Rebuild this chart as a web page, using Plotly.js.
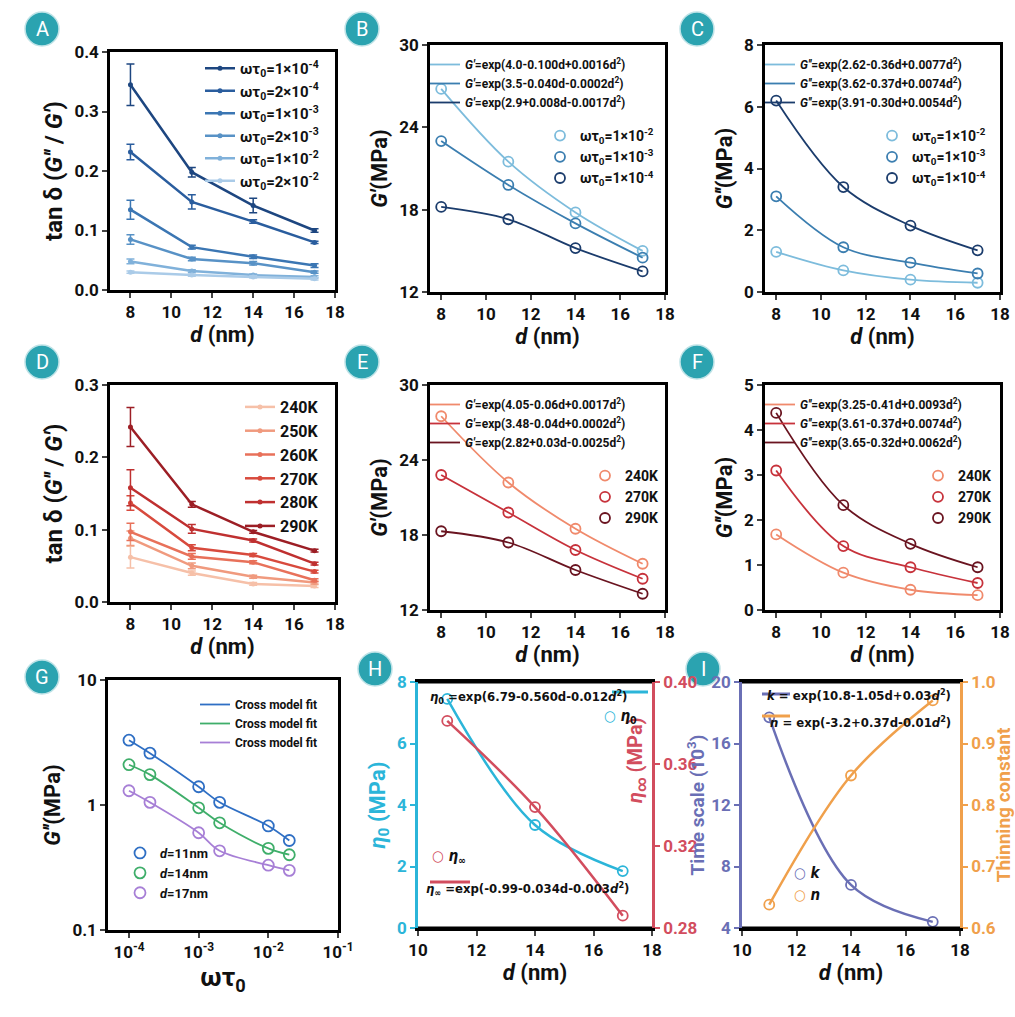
<!DOCTYPE html>
<html><head><meta charset="utf-8">
<script src="https://cdn.plot.ly/plotly-3.0.1.min.js"></script>
<style>body{margin:0;background:#fff}</style></head>
<body><div id="plot" style="width:1015px;height:1017px"></div>
<script>
var d = [8, 11, 14, 17];
var d3 = [11, 14, 17];
var wt = [1e-4, 2e-4, 1e-3, 2e-3, 1e-2, 2e-2];

// A: tan delta vs d for frequencies
var aNames = ['1×10<sup>-4</sup>','2×10<sup>-4</sup>','1×10<sup>-3</sup>','2×10<sup>-3</sup>','1×10<sup>-2</sup>','2×10<sup>-2</sup>'];
var aVals = [[0.345,0.198,0.142,0.100],[0.232,0.148,0.115,0.080],[0.135,0.072,0.056,0.041],
             [0.085,0.052,0.045,0.030],[0.048,0.032,0.025,0.022],[0.030,0.025,0.022,0.019]];
var aErr = [[0.035,0.008,0.012,0.003],[0.013,0.012,0.003,0.002],[0.016,0.003,0.003,0.003],
            [0.008,0.003,0.003,0.002],[0.004,0.002,0.002,0.002],[0.002,0.002,0.002,0.002]];
var aCol = ['#1d4680','#2a5d9e','#3b76b3','#5892c6','#80b1da','#aacbe8'];

// B, C
var bcNames = ['1×10<sup>-2</sup>','1×10<sup>-3</sup>','1×10<sup>-4</sup>'];
var bCol = ['#7dbcdc','#3b7eb0','#1b3c6c'];
var bVals = [[26.8,21.5,17.8,15.0],[23.0,19.8,17.0,14.5],[18.2,17.3,15.2,13.5]];
var bFit = ['exp(4.0-0.100d+0.0016d<sup>2</sup>)','exp(3.5-0.040d-0.0002d<sup>2</sup>)','exp(2.9+0.008d-0.0017d<sup>2</sup>)'];
var cVals = [[1.3,0.7,0.4,0.3],[3.1,1.45,0.95,0.6],[6.2,3.4,2.15,1.35]];
var cFit = ['exp(2.62-0.36d+0.0077d<sup>2</sup>)','exp(3.62-0.37d+0.0074d<sup>2</sup>)','exp(3.91-0.30d+0.0054d<sup>2</sup>)'];

// D
var dNames = ['240K','250K','260K','270K','280K','290K'];
var dVals = [[0.062,0.040,0.025,0.022],[0.088,0.050,0.035,0.027],[0.097,0.063,0.055,0.030],
             [0.137,0.075,0.065,0.042],[0.158,0.101,0.085,0.053],[0.242,0.135,0.097,0.071]];
var dErr = [[0.015,0.003,0.002,0.002],[0.01,0.004,0.002,0.002],[0.012,0.004,0.002,0.002],
            [0.01,0.004,0.002,0.002],[0.025,0.006,0.002,0.002],[0.027,0.004,0.002,0.002]];
var dCol = ['#f6c0a8','#f09a7e','#e8715a','#d84a3d','#bf3030','#9c1e25'];

// E, F
var efNames = ['240K','270K','290K'];
var eCol = ['#f08a6c','#c7323b','#6a1420'];
var eVals = [[27.5,22.2,18.5,15.7],[22.8,19.8,16.8,14.5],[18.3,17.4,15.2,13.3]];
var eFit = ['exp(4.05-0.06d+0.0017d<sup>2</sup>)','exp(3.48-0.04d+0.0002d<sup>2</sup>)','exp(2.82+0.03d-0.0025d<sup>2</sup>)'];
var fVals = [[1.68,0.83,0.45,0.33],[3.1,1.42,0.95,0.6],[4.38,2.33,1.47,0.95]];
var fFit = ['exp(3.25-0.41d+0.0093d<sup>2</sup>)','exp(3.61-0.37d+0.0074d<sup>2</sup>)','exp(3.65-0.32d+0.0062d<sup>2</sup>)'];

// G
var gNames = ['11nm','14nm','17nm'];
var gCol = ['#2f6fc4','#3fae6a','#a77fd6'];
var gVals = [[3.3,2.6,1.4,1.05,0.68,0.52],[2.1,1.75,0.95,0.72,0.45,0.40],[1.3,1.05,0.6,0.43,0.33,0.30]];

// H, I
var eta0 = [7.45, 3.35, 1.85];
var etaInf = [0.381, 0.339, 0.286];
var kVals = [17.7, 6.8, 4.4];
var nVals = [0.638, 0.848, 0.970];

var W = 1015, H = 1017;
function dx(a, b) { return [a / W, b / W]; }
function dy(t, b) { return [1 - b / H, 1 - t / H]; }
var F = 'Roboto, Arial, sans-serif';

var traces = [];
var layout = {width: W, height: H, margin: {l: 0, r: 0, t: 0, b: 0},
  paper_bgcolor: '#fff', plot_bgcolor: 'rgba(0,0,0,0)', font: {family: F, color: '#111'},
  annotations: [], shapes: []};

function ax(dom, range, dtick, title, opts) {
  var o = {domain: dom, range: range, dtick: dtick, showgrid: false, zeroline: false,
    showline: true, linecolor: '#000', linewidth: 2.5, mirror: true, ticks: 'outside',
    ticklen: 5, tickwidth: 2, tickfont: {size: 17, family: F, weight: 'bold'},
    title: {text: title, font: {size: 22, family: F, weight: 'bold'}, standoff: 6}};
  for (var k in opts) o[k] = opts[k];
  return o;
}
var dTitle = '<i>d</i> (nm)';

function legend(name, x, y, size) {
  layout[name] = {x: x / W, y: 1 - y / H, xanchor: 'left', yanchor: 'top', bgcolor: 'rgba(0,0,0,0)',
    font: {size: size || 13, family: F, weight: 'bold'}, tracegroupgap: 0, itemwidth: 30};
}
function note(t, x, y, c, size, extra) {
  var a = {text: t, x: x / W, y: 1 - y / H, xref: 'paper', yref: 'paper', xanchor: 'left', showarrow: false,
    font: {size: size || 13, family: 'DejaVu Sans Condensed, Roboto', weight: 'bold', color: c || '#111'}};
  for (var k in extra) a[k] = extra[k];
  layout.annotations.push(a);
}

// ---------- A ----------
layout.xaxis = ax(dx(110,335), [7,18], 2, dTitle, {anchor: 'y'});
layout.yaxis = ax(dy(52,290), [0,0.4], 0.1, 'tan δ (<i>G\'\'</i> / <i>G\'</i>)', {anchor: 'x', tickformat: '.1f'});
layout.yaxis.title.font.size = 24;
aVals.forEach(function (v, i) {
  traces.push({x: d, y: v, xaxis: 'x', yaxis: 'y', mode: 'lines+markers', name: 'ωτ<sub>0</sub>=' + aNames[i],
    line: {color: aCol[i], width: 2.5}, marker: {size: 5, color: aCol[i]}, legend: 'legend',
    error_y: {type: 'data', array: aErr[i], color: aCol[i], thickness: 1.5, width: 4}});
});
legend('legend', 200, 52, 15);

// ---------- B ----------
layout.xaxis2 = ax(dx(430,665), [7.5,18], 2, dTitle, {anchor: 'y2'});
layout.yaxis2 = ax(dy(45,292), [12,30], 6, '<i>G\'</i>(MPa)', {anchor: 'x2'});
bVals.forEach(function (v, i) {
  traces.push({x: d, y: v, xaxis: 'x2', yaxis: 'y2', mode: 'lines', line: {shape: 'spline', color: bCol[i], width: 1.8},
    name: '<i>G\'</i>=' + bFit[i], legend: 'legend2'});
  traces.push({x: d, y: v, xaxis: 'x2', yaxis: 'y2', mode: 'markers', marker: {symbol: 'circle-open', size: 10, color: bCol[i], line: {width: 1.8}},
    name: 'ωτ<sub>0</sub>=' + bcNames[i], legend: 'legend3'});
});
legend('legend2', 425, 50, 12); legend('legend3', 540, 120, 14);

// ---------- C ----------
layout.xaxis3 = ax(dx(765,1000), [7.5,18], 2, dTitle, {anchor: 'y3'});
layout.yaxis3 = ax(dy(45,292), [0,8], 2, '<i>G\'\'</i>(MPa)', {anchor: 'x3'});
cVals.forEach(function (v, i) {
  traces.push({x: d, y: v, xaxis: 'x3', yaxis: 'y3', mode: 'lines', line: {shape: 'spline', color: bCol[i], width: 1.8},
    name: '<i>G\'\'</i>=' + cFit[i], legend: 'legend4'});
  traces.push({x: d, y: v, xaxis: 'x3', yaxis: 'y3', mode: 'markers', marker: {symbol: 'circle-open', size: 10, color: bCol[i], line: {width: 1.8}},
    name: 'ωτ<sub>0</sub>=' + bcNames[i], legend: 'legend5'});
});
legend('legend4', 760, 50, 12); legend('legend5', 872, 120, 14);

// ---------- D ----------
layout.xaxis4 = ax(dx(110,335), [7,18], 2, dTitle, {anchor: 'y4'});
layout.yaxis4 = ax(dy(385,602), [0,0.3], 0.1, 'tan δ (<i>G\'\'</i> / <i>G\'</i>)', {anchor: 'x4', tickformat: '.1f'});
layout.yaxis4.title.font.size = 24;
dVals.forEach(function (v, i) {
  traces.push({x: d, y: v, xaxis: 'x4', yaxis: 'y4', mode: 'lines+markers', name: dNames[i],
    line: {color: dCol[i], width: 2.5}, marker: {size: 5, color: dCol[i]}, legend: 'legend6',
    error_y: {type: 'data', array: dErr[i], color: dCol[i], thickness: 1.5, width: 4}});
});
legend('legend6', 240, 390, 16);

// ---------- E ----------
layout.xaxis5 = ax(dx(430,665), [7.5,18], 2, dTitle, {anchor: 'y5'});
layout.yaxis5 = ax(dy(385,610), [12,30], 6, '<i>G\'</i>(MPa)', {anchor: 'x5'});
eVals.forEach(function (v, i) {
  traces.push({x: d, y: v, xaxis: 'x5', yaxis: 'y5', mode: 'lines', line: {shape: 'spline', color: eCol[i], width: 1.8},
    name: '<i>G\'</i>=' + eFit[i], legend: 'legend7'});
  traces.push({x: d, y: v, xaxis: 'x5', yaxis: 'y5', mode: 'markers', marker: {symbol: 'circle-open', size: 10, color: eCol[i], line: {width: 1.8}},
    name: efNames[i], legend: 'legend8'});
});
legend('legend7', 425, 390, 12); legend('legend8', 585, 460, 14);

// ---------- F ----------
layout.xaxis6 = ax(dx(765,1000), [7.5,18], 2, dTitle, {anchor: 'y6'});
layout.yaxis6 = ax(dy(385,610), [0,5], 1, '<i>G\'\'</i>(MPa)', {anchor: 'x6'});
fVals.forEach(function (v, i) {
  traces.push({x: d, y: v, xaxis: 'x6', yaxis: 'y6', mode: 'lines', line: {shape: 'spline', color: eCol[i], width: 1.8},
    name: '<i>G\'\'</i>=' + fFit[i], legend: 'legend9'});
  traces.push({x: d, y: v, xaxis: 'x6', yaxis: 'y6', mode: 'markers', marker: {symbol: 'circle-open', size: 10, color: eCol[i], line: {width: 1.8}},
    name: efNames[i], legend: 'legend10'});
});
legend('legend9', 760, 390, 12); legend('legend10', 918, 460, 14);

// ---------- G ----------
layout.xaxis7 = ax(dx(108,338), [Math.log10(5e-5), Math.log10(0.1)], 1, 'ωτ<sub>0</sub>',
  {anchor: 'y7', type: 'log', tickvals: [1e-4,1e-3,1e-2,1e-1],
   ticktext: ['10<sup>-4</sup>','10<sup>-3</sup>','10<sup>-2</sup>','10<sup>-1</sup>']});
layout.xaxis7.title.font.size = 26;
layout.yaxis7 = ax(dy(680,930), [-1, 1], 1, '<i>G\'\'</i>(MPa)', {anchor: 'x7', type: 'log', tickvals: [0.1,1,10], ticktext: ['0.1','1','10']});
gVals.forEach(function (v, i) {
  traces.push({x: wt, y: v, xaxis: 'x7', yaxis: 'y7', mode: 'lines', line: {shape: 'spline', color: gCol[i], width: 1.8},
    name: 'Cross model fit', legend: 'legend11'});
  traces.push({x: wt, y: v, xaxis: 'x7', yaxis: 'y7', mode: 'markers', marker: {symbol: 'circle-open', size: 11, color: gCol[i], line: {width: 1.8}},
    name: '<i>d</i>=' + gNames[i], legend: 'legend12'});
});
legend('legend11', 195, 690, 12); legend('legend12', 120, 838, 13);

// ---------- H ----------
var cy = '#2bb5d9', rd = '#d24d5e';
layout.xaxis8 = ax(dx(418,652), [10,18], 2, dTitle, {anchor: 'y8'});
layout.yaxis8 = ax(dy(682,928), [0,8], 2, '<i>η</i><sub>0</sub> (MPa)', {anchor: 'x8', mirror: false, linecolor: cy, tickcolor: cy,
  tickfont: {size: 17, family: F, weight: 'bold', color: cy}});
layout.yaxis8.title.font.color = cy;
layout.yaxis9 = ax(dy(682,928), [0.28,0.40], 0.04, '', {anchor: 'x8', overlaying: 'y8', side: 'right', mirror: false,
  linecolor: rd, tickcolor: rd, tickformat: '.2f', tickfont: {size: 17, family: F, weight: 'bold', color: rd}});
note('<i>η</i><sub>∞</sub> (MPa)', 636, 805, rd, 20, {xanchor: 'center', textangle: -90, font: {size: 20, family: F, weight: 'bold', color: rd}});
traces.push({x: d3, y: eta0, xaxis: 'x8', yaxis: 'y8', mode: 'lines+markers', line: {shape: 'spline', color: cy, width: 2.5},
  marker: {symbol: 'circle-open', size: 10, color: cy, line: {width: 1.8}}, showlegend: false});
traces.push({x: d3, y: etaInf, xaxis: 'x8', yaxis: 'y9', mode: 'lines+markers', line: {shape: 'spline', color: rd, width: 2.5},
  marker: {symbol: 'circle-open', size: 10, color: rd, line: {width: 1.8}}, showlegend: false});

// ---------- I ----------
var pu = '#6a6fb5', og = '#f0a04b';
layout.xaxis9 = ax(dx(742,960), [10,18], 2, dTitle, {anchor: 'y10'});
layout.yaxis10 = ax(dy(682,928), [4,20], 4, 'Time scale (10<sup>3</sup>)', {anchor: 'x9', mirror: false, linecolor: pu, tickcolor: pu,
  tickfont: {size: 17, family: F, weight: 'bold', color: pu}});
layout.yaxis10.title.font.color = pu;
layout.yaxis10.title.font.size = 19;
layout.yaxis10.title.standoff = 2;
layout.yaxis11 = ax(dy(682,928), [0.6,1.0], 0.1, 'Thinning constant', {anchor: 'x9', overlaying: 'y10', side: 'right', mirror: false,
  linecolor: og, tickcolor: og, tickformat: '.1f', tickfont: {size: 17, family: F, weight: 'bold', color: og}});
layout.yaxis11.title.font.color = og;
layout.yaxis11.title.font.size = 19;
traces.push({x: d3, y: kVals, xaxis: 'x9', yaxis: 'y10', mode: 'lines+markers', line: {shape: 'spline', color: pu, width: 2.5},
  marker: {symbol: 'circle-open', size: 10, color: pu, line: {width: 1.8}}, showlegend: false});
traces.push({x: d3, y: nVals, xaxis: 'x9', yaxis: 'y11', mode: 'lines+markers', line: {shape: 'spline', color: og, width: 2.5},
  marker: {symbol: 'circle-open', size: 10, color: og, line: {width: 1.8}}, showlegend: false});

// top/bottom borders for H, I (black)
[['x8 domain','y8 domain'],['x9 domain','y10 domain']].forEach(function (r) {
  layout.shapes.push({type: 'line', xref: r[0], yref: r[1], x0: 0, x1: 1, y0: 1, y1: 1, line: {color: '#000', width: 3}});
  layout.shapes.push({type: 'line', xref: r[0], yref: r[1], x0: 0, x1: 1, y0: 0, y1: 0, line: {color: '#000', width: 3}});
});

// equation text and marker keys in H and I
note('<i>η</i><sub>0</sub> =exp(6.79-0.560d-0.012<i>d</i><sup>2</sup>)', 428, 708);
note('<span style="color:' + cy + '">○</span> <i>η</i><sub>0</sub>', 602, 728, '#111', 15);
note('<span style="color:' + rd + '">○</span> <i>η</i><sub>∞</sub>', 430, 868, '#111', 15);
note('<i>η</i><sub>∞</sub> =exp(-0.99-0.034d-0.003<i>d</i><sup>2</sup>)', 424, 900);
note('<i>k</i> = exp(10.8-1.05d+0.03<i>d</i><sup>2</sup>)', 765, 705);
note('<i>n</i> = exp(-3.2+0.37d-0.01<i>d</i><sup>2</sup>)', 768, 732);
note('<span style="color:' + pu + '">○</span> <i>k</i>', 792, 884, '#111', 15);
note('<span style="color:' + og + '">○</span> <i>n</i>', 792, 906, '#111', 15);
[[612,648,692,cy],[430,470,882,rd],[762,790,694,pu],[762,790,716,og]].forEach(function (s) {
  layout.shapes.push({type: 'line', xref: 'paper', yref: 'paper', x0: s[0] / W, x1: s[1] / W, y0: 1 - s[2] / H, y1: 1 - s[2] / H,
    line: {color: s[3], width: 3}});
});

// panel letter badges
var badges = [['A',42,12],['B',362,12],['C',697,12],['D',42,345],['E',362,345],['F',697,345],['G',42,660],['H',375,652],['I',703,652]];
badges.forEach(function (b) {
  layout.shapes.push({type: 'circle', xref: 'paper', yref: 'paper', layer: 'below', x0: (b[1] - 17) / W, x1: (b[1] + 17) / W,
    y0: 1 - (b[2] + 34) / H, y1: 1 - b[2] / H, fillcolor: '#2ba3b0', line: {color: '#bfe3e7', width: 1.5}});
  layout.annotations.push({text: b[0], x: b[1] / W, y: 1 - (b[2] + 17) / H, xref: 'paper', yref: 'paper', showarrow: false,
    xanchor: 'center', yanchor: 'middle', font: {size: 20, color: '#fff', family: F}});
});

Plotly.newPlot('plot', traces, layout, {displayModeBar: false});
</script></body></html>
